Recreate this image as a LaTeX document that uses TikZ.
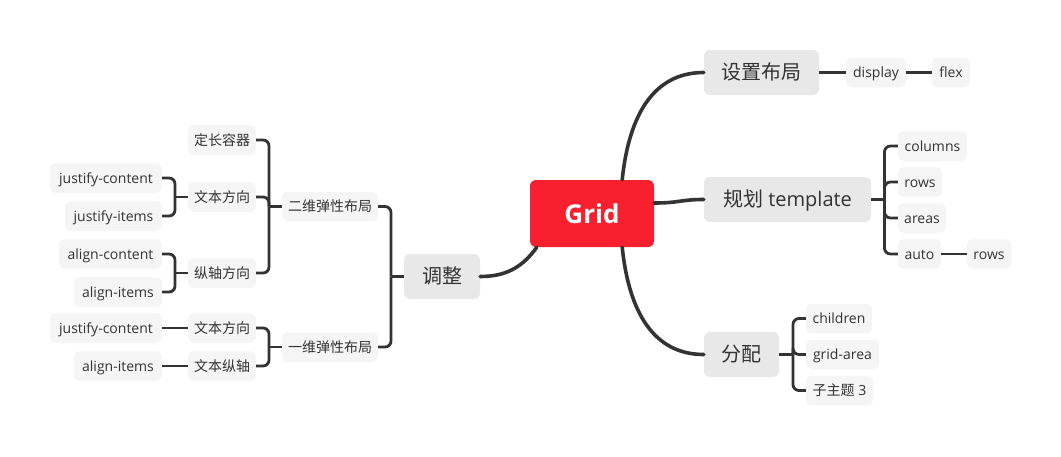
\documentclass[tikz,border=0pt]{standalone}
\usepackage{fontspec}
\setmainfont{Open Sans}
\newfontfamily\cjk{Noto Sans CJK SC}
\definecolor{gridred}{HTML}{F8202F}
\definecolor{lvone}{HTML}{E8E8E8}
\definecolor{lvtwo}{HTML}{F5F5F5}
\definecolor{ink}{HTML}{333333}
\begin{document}
\begin{tikzpicture}[x=1pt,y=-1pt,
  rootbox/.style={rectangle,rounded corners=6pt,fill=gridred,text=white,font=\fontsize{26}{30}\selectfont\bfseries,minimum width=124pt,minimum height=67pt,inner sep=0pt},
  topicbox/.style={rectangle,rounded corners=6pt,fill=lvone,text=ink,font=\fontsize{20}{22}\selectfont,minimum height=45pt,inner sep=0pt,text height=16pt,text depth=3pt},
  leafbox/.style={rectangle,rounded corners=5pt,fill=lvtwo,text=ink,font=\fontsize{14}{16}\selectfont,minimum height=29.5pt,inner sep=0pt,text height=12.5pt,text depth=2pt},
  mainline/.style={draw=ink,line width=3.6pt,line cap=round},
  brline/.style={draw=ink,line width=2.8pt,rounded corners=6pt},
  stline/.style={draw=ink,line width=2.8pt}]
\useasboundingbox (0,0) rectangle (1061,456);
% root and topics
\node[rootbox] (grid) at (592,213.5) {Grid};
\node[topicbox,minimum width=115pt] (shezhi) at (761.5,72.5) {\cjk 设置布局};
\node[topicbox,minimum width=167pt] (guihua) at (787.5,199.5) {{\cjk 规划} template};
\node[topicbox,minimum width=75pt] (fenpei) at (741.5,354.5) {\cjk 分配};
\node[topicbox,minimum width=76pt] (tiaozheng) at (442,276.5) {\cjk 调整};
% right leaves
\node[leafbox,minimum width=60pt] (display) at (876,72.5) {display};
\node[leafbox,minimum width=38pt] (flex) at (951,72.5) {flex};
\node[leafbox,minimum width=69pt] (columns) at (932.5,146) {columns};
\node[leafbox,minimum width=44pt] (rowsa) at (920,182) {rows};
\node[leafbox,minimum width=48pt] (areas) at (922,218) {areas};
\node[leafbox,minimum width=43pt] (auto) at (919.5,254) {auto};
\node[leafbox,minimum width=44pt] (rowsb) at (989,254) {rows};
\node[leafbox,minimum width=66pt] (children) at (839,318.5) {children};
\node[leafbox,minimum width=73pt] (gridarea) at (842.5,354.5) {grid-area};
\node[leafbox,minimum width=67pt] (zizhuti) at (839.5,390.5) {{\cjk 子主题} 3};
% left leaves
\node[leafbox,minimum width=96pt] (erwei) at (330,206.5) {\cjk 二维弹性布局};
\node[leafbox,minimum width=96pt] (yiwei) at (330,347) {\cjk 一维弹性布局};
\node[leafbox,minimum width=68pt] (dingchang) at (222,140) {\cjk 定长容器};
\node[leafbox,minimum width=68pt] (wbfxa) at (222,197) {\cjk 文本方向};
\node[leafbox,minimum width=68pt] (zongzhou) at (222,273) {\cjk 纵轴方向};
\node[leafbox,minimum width=68pt] (wbfxb) at (222,328) {\cjk 文本方向};
\node[leafbox,minimum width=68pt] (wbzz) at (222,366) {\cjk 文本纵轴};
\node[leafbox,minimum width=112pt] (jca) at (106,178) {justify-content};
\node[leafbox,minimum width=97pt] (jia) at (113.5,216) {justify-items};
\node[leafbox,minimum width=103pt] (aca) at (110.5,254) {align-content};
\node[leafbox,minimum width=88pt] (aia) at (118,292) {align-items};
\node[leafbox,minimum width=112pt] (jcb) at (106,328) {justify-content};
\node[leafbox,minimum width=88pt] (aib) at (118,366) {align-items};
% main curves
\draw[mainline] ([xshift=-32pt]grid.north east) .. controls (630,105) and (660,72.5) .. (shezhi.west);
\draw[mainline] (grid.east |- 0,203) .. controls (680,203) and (680,199.5) .. (guihua.west);
\draw[mainline] ([xshift=-32pt]grid.south east) .. controls (630,322) and (660,354.5) .. (fenpei.west);
\draw[mainline] ([xshift=7pt]grid.south west) .. controls (522,268) and (505,276.5) .. (tiaozheng.east);
% right connectors
\draw[stline] (shezhi.east) -- (display.west);
\draw[stline] (display.east) -- (flex.west);
\coordinate (bg) at (884.5,199.5);
\draw[stline] (guihua.east) -- (bg);
\foreach \c in {columns,rowsa,areas,auto} \draw[brline] (bg) |- (\c.west);
\draw[stline] (auto.east) -- (rowsb.west);
\coordinate (bf) at (793,354.5);
\draw[stline] (fenpei.east) -- (bf);
\foreach \c in {children,gridarea,zizhuti} \draw[brline] (bf) |- (\c.west);
% left connectors
\coordinate (bt) at (391,276.5);
\draw[stline] (tiaozheng.west) -- (bt);
\foreach \c in {erwei,yiwei} \draw[brline] (bt) |- (\c.east);
\coordinate (be) at (269,206.5);
\draw[stline] (erwei.west) -- (be);
\foreach \c in {dingchang,wbfxa,zongzhou} \draw[brline] (be) |- (\c.east);
\coordinate (by) at (269,347);
\draw[stline] (yiwei.west) -- (by);
\foreach \c in {wbfxb,wbzz} \draw[brline] (by) |- (\c.east);
\coordinate (bwa) at (175,197);
\draw[stline] (wbfxa.west) -- (bwa);
\foreach \c in {jca,jia} \draw[brline] (bwa) |- (\c.east);
\coordinate (bz) at (175,273);
\draw[stline] (zongzhou.west) -- (bz);
\foreach \c in {aca,aia} \draw[brline] (bz) |- (\c.east);
\draw[stline] (wbfxb.west) -- (jcb.east);
\draw[stline] (wbzz.west) -- (aib.east);
\end{tikzpicture}
\end{document}
